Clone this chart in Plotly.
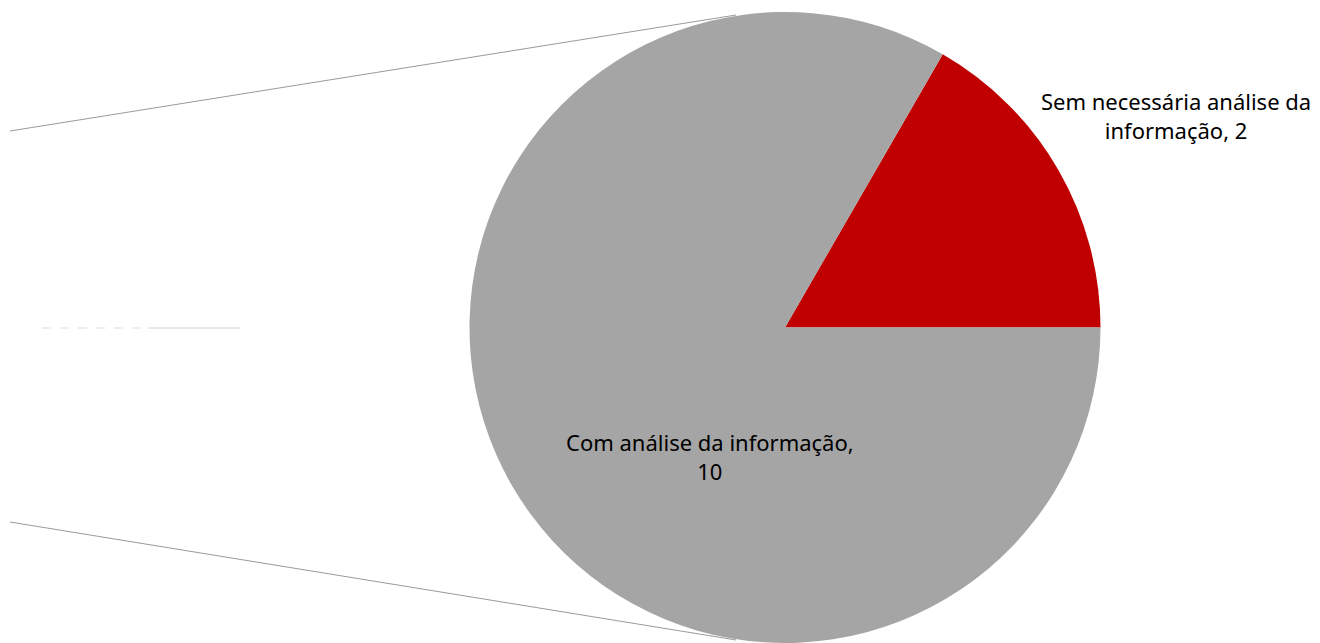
import plotly.graph_objects as go

# Categories and counts
labels = ["Sem necessária análise da informação", "Com análise da informação"]
values = [2, 10]
colors = ["#C00000", "#A5A5A5"]

# Wrapped label lines for each category
label_lines = [["Sem necessária análise da", "informação"], ["Com análise da informação,", ""]]

W, H = 1320, 643
MT, MB = 12, 0

fig = go.Figure()
fig.add_trace(go.Pie(
    labels=labels,
    values=values,
    marker=dict(colors=colors, line=dict(width=0)),
    sort=False,
    direction="clockwise",
    rotation=30,
    textinfo="none",
    hoverinfo="label+value",
    showlegend=False,
    domain=dict(x=[469 / W, 1101 / W], y=[0, 1]),
))

def px(x, y):
    # pixel position -> paper coordinates of the plot area
    return x / W, 1 - (y - MT) / (H - MT - MB)

# Data labels built from the values
ann_pos = [(1176, 116), (710, 456)]
texts = [
    f"{label_lines[0][0]}<br>{label_lines[0][1]}, {values[0]}",
    f"{label_lines[1][0]}<br>{values[1]}",
]
annotations = []
for (x, y), t in zip(ann_pos, texts):
    ax, ay = px(x, y)
    annotations.append(dict(
        x=ax, y=ay, xref="paper", yref="paper", text=t, showarrow=False,
        xanchor="center", yanchor="middle", align="center",
        font=dict(family="Noto Sans, Open Sans, sans-serif", size=22, color="#000000"),
    ))

# Connector lines of the secondary pie and its faint leftover edge
shapes = []
def seg(x0, y0, x1, y1, color, width=1, dash="solid"):
    a0, b0 = px(x0, y0)
    a1, b1 = px(x1, y1)
    shapes.append(dict(type="line", xref="paper", yref="paper", x0=a0, y0=b0, x1=a1, y1=b1,
                       line=dict(color=color, width=width, dash=dash), layer="below"))

seg(10, 131, 736, 15, "#9a9a9a")
seg(10, 522, 736, 640, "#9a9a9a")
seg(42, 328, 148, 328, "#dddddd", 1, "dash")
seg(148, 328, 240, 328, "#d4d4d4")

fig.update_layout(
    width=W, height=H,
    margin=dict(l=0, r=0, t=MT, b=MB),
    paper_bgcolor="#ffffff",
    plot_bgcolor="#ffffff",
    annotations=annotations,
    shapes=shapes,
)

fig.write_html("out.html")
